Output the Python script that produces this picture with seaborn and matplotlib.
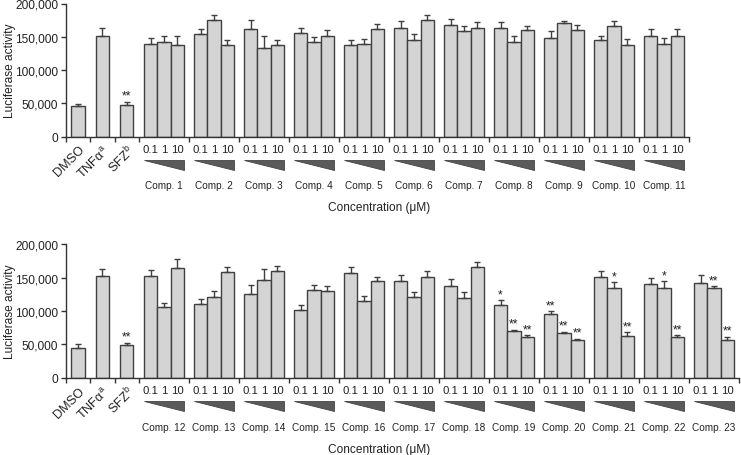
import numpy as np
import pandas as pd
import matplotlib
matplotlib.use("Agg")
import matplotlib.pyplot as plt
from matplotlib.ticker import FuncFormatter
import seaborn as sns

# ---------------- data ----------------
controls = ["DMSO", "TNFα$^{a}$", "SFZ$^{b}$"]
concentrations = ["0.1", "1", "10"]

top_ctrl_mean = [46000, 151000, 48000]
top_ctrl_err = [3500, 11500, 4000]
top_ctrl_sig = ["", "", "**"]

bot_ctrl_mean = [45000, 152000, 49000]
bot_ctrl_err = [5000, 10500, 3500]
bot_ctrl_sig = ["", "", "**"]

top_compounds = [f"Comp. {i}" for i in range(1, 12)]
top_mean = [
    [139500, 142000, 138000], [153500, 174500, 137500], [161500, 133500, 138000],
    [155000, 142500, 151500], [137500, 139500, 162000], [163500, 145000, 174500],
    [167000, 158500, 163000], [163000, 141500, 160500], [148500, 170000, 160000],
    [145000, 165500, 138000], [150500, 139000, 150500],
]
top_err = [
    [8000, 8500, 13000], [8000, 8000, 7500], [13500, 17500, 7500],
    [8000, 7000, 8000], [8000, 7500, 7000], [9500, 8500, 8500],
    [9000, 7500, 9000], [8500, 9500, 5500], [10000, 4000, 8000],
    [6500, 8000, 8500], [10500, 9000, 10500],
]
top_sig = [["", "", ""]] * 11

bot_compounds = [f"Comp. {i}" for i in range(12, 24)]
bot_mean = [
    [153000, 105500, 165000], [110000, 121500, 158000], [125500, 146000, 160000],
    [101000, 131000, 130000], [157000, 115000, 145000], [145000, 120500, 151000],
    [137500, 119000, 165500], [109000, 69500, 61500], [95500, 67000, 57000],
    [151500, 134500, 63000], [140500, 134500, 61500], [142000, 134500, 56500],
]
bot_err = [
    [8000, 6500, 13000], [8500, 8000, 8000], [13000, 16500, 7000],
    [8500, 8000, 8000], [8500, 8000, 6500], [9500, 8500, 8500],
    [10000, 10000, 8000], [7500, 2500, 2500], [4500, 2000, 1500],
    [9000, 8500, 5500], [9000, 10000, 2000], [12000, 2500, 5000],
]
bot_sig = [["", "", ""]] * 7 + [
    ["*", "**", "**"], ["**", "**", "**"], ["", "*", "**"],
    ["", "*", "**"], ["", "**", "**"],
]

yticks = [0, 50000, 100000, 150000, 200000]

# ---------------- layout constants ----------------
W, H = 741, 456
UNIT = 13.333          # px per bar width
CSLOT = 1.825          # control slot width (bar units)
GSLOT = 3.75           # compound group width
PAD = (GSLOT - 3) / 2
BAR_FACE = "#d4d4d4"
EDGE = "#404040"
FONT = ["Liberation Sans", "DejaVu Sans"]

sns.set_style("ticks")
plt.rcParams["font.family"] = FONT
plt.rcParams["mathtext.default"] = "regular"


def build_frame(ctrl_mean, ctrl_err, ctrl_sig, comps, means, errs, sigs):
    rows = []
    for i, (m, e, s) in enumerate(zip(ctrl_mean, ctrl_err, ctrl_sig)):
        rows.append(dict(pos=(i + 0.5) * CSLOT, value=m, err=e, sig=s,
                         label=controls[i], kind="ctrl", group=-1))
    g0 = 3 * CSLOT
    for k, (name, ms, es, ss) in enumerate(zip(comps, means, errs, sigs)):
        for j in range(3):
            rows.append(dict(pos=g0 + k * GSLOT + PAD + j + 0.5, value=ms[j],
                             err=es[j], sig=ss[j], label=concentrations[j],
                             kind="comp", group=k))
    return pd.DataFrame(rows)


fig = plt.figure(figsize=(W / 100, H / 100), dpi=100)


def draw_panel(ax, df, comps, ax_h_px, comp_off_px, conc_y_px):
    sns.barplot(data=df, x="pos", y="value", native_scale=True, orient="x",
                width=1.0, color=BAR_FACE, saturation=1, edgecolor=EDGE,
                linewidth=1.0, errorbar=None, ax=ax)
    ax.errorbar(df["pos"], df["value"],
                yerr=[np.zeros(len(df)), df["err"]], fmt="none",
                ecolor=EDGE, elinewidth=1.0, capsize=2.4, capthick=1.0,
                zorder=3)
    n = len(comps)
    xmax = 3 * CSLOT + n * GSLOT
    ax.set_xlim(0, xmax)
    ax.set_ylim(0, 200000)
    ax.set_yticks(yticks)
    ax.yaxis.set_major_formatter(FuncFormatter(lambda v, p: f"{int(v):,}"))
    bounds = [0, CSLOT, 2 * CSLOT, 3 * CSLOT] + [3 * CSLOT + (k + 1) * GSLOT for k in range(n)]
    ax.set_xticks(bounds)
    ax.set_xticklabels([])
    ax.set_xlabel("")
    ax.set_ylabel("Luciferase activity", fontsize=8.6, color="#222222")
    ax.yaxis.set_label_coords(-50 / (xmax * UNIT), 0.5)
    ax.tick_params(axis="y", labelsize=8.6, length=3.5, width=1.0,
                   colors="#333333", labelcolor="#222222", pad=2)
    ax.tick_params(axis="x", length=3.5, width=1.0, colors="#333333")
    for sp in ["top", "right"]:
        ax.spines[sp].set_visible(False)
    for sp in ["left", "bottom"]:
        ax.spines[sp].set_color("#333333")
        ax.spines[sp].set_linewidth(1.0)

    bt = ax.get_xaxis_transform()
    fy = lambda px: -px / ax_h_px
    ppd = 200000 / ax_h_px  # data per px

    # significance marks
    for _, r in df.iterrows():
        if r["sig"]:
            ax.text(r["pos"], r["value"] + r["err"] + 6 * ppd, r["sig"],
                    ha="center", va="center", fontsize=8.8, color="#222222")

    # control labels (rotated)
    for _, r in df[df["kind"] == "ctrl"].iterrows():
        ax.text(r["pos"] + 5 / UNIT, fy(11), r["label"], transform=bt,
                rotation=45, rotation_mode="anchor", ha="right", va="center",
                fontsize=9.2, color="#222222", clip_on=False)

    # concentration labels, wedges, compound names
    comp_df = df[df["kind"] == "comp"]
    for _, r in comp_df.iterrows():
        ax.text(r["pos"], fy(12.8), r["label"], transform=bt, ha="center",
                va="center", fontsize=8.2, color="#222222", clip_on=False)
    for k, name in enumerate(comps):
        sub = comp_df[comp_df["group"] == k]
        left = sub["pos"].min() - 0.5
        right = sub["pos"].max() + 0.5
        ax.fill([left, right, right], [fy(23.5), fy(23.5), fy(33.5)],
                transform=bt, facecolor="#5a5a5a", edgecolor="#444444",
                linewidth=0.6, clip_on=False)
        ax.text((left + right) / 2, fy(comp_off_px), name, transform=bt,
                ha="center", va="center", fontsize=7.2, color="#222222",
                clip_on=False)
    fig.text(379 / W, 1 - conc_y_px / H, "Concentration (μM)", ha="center",
             va="center", fontsize=8.6, color="#222222")


df_top = build_frame(top_ctrl_mean, top_ctrl_err, top_ctrl_sig,
                     top_compounds, top_mean, top_err, top_sig)
df_bot = build_frame(bot_ctrl_mean, bot_ctrl_err, bot_ctrl_sig,
                     bot_compounds, bot_mean, bot_err, bot_sig)

top_w = (3 * CSLOT + len(top_compounds) * GSLOT) * UNIT
bot_w = (3 * CSLOT + len(bot_compounds) * GSLOT) * UNIT
ax_top = fig.add_axes([66 / W, 1 - 137.5 / H, top_w / W, 133 / H])
ax_bot = fig.add_axes([66 / W, 1 - 378.7 / H, bot_w / W, 133.4 / H])

draw_panel(ax_top, df_top, top_compounds, 133, 48.5, 208)
draw_panel(ax_bot, df_bot, bot_compounds, 133.4, 49.3, 450)

fig.savefig("out.png", dpi=100)
